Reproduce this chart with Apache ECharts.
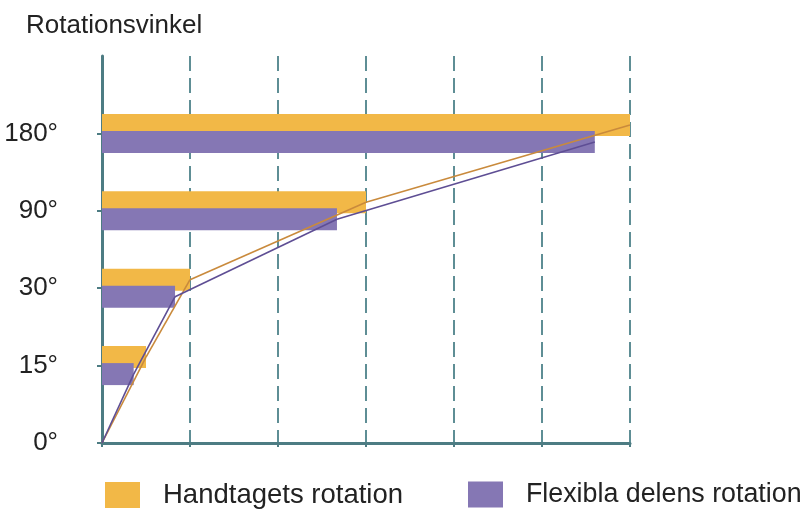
<!DOCTYPE html>
<html>
<head>
<meta charset="utf-8">
<script src="https://cdn.jsdelivr.net/npm/echarts@6/dist/echarts.min.js"></script>
<style>
  html, body { margin: 0; padding: 0; background: #fff; }
  #chart { width: 807px; height: 509px; }
</style>
</head>
<body>
<div id="chart"></div>
<script>
  /******************/
  //region    //data

  let angleLabels = ['0°', '15°', '30°', '90°', '180°', ''];
  let seriesNames = ['Handtagets rotation', 'Flexibla delens rotation'];
  // rotation per angle step (0°, 15°, 30°, 90°, 180°)
  let handleRotation = [0, 0.5, 1.0, 3.0, 6.0];
  let flexRotation = [0, 0.36, 0.83, 2.67, 5.6];

  //endregion

  /******************/
  //region    //style

  let barColors = ['#F2B847', '#8577B4'];
  let lineColors = ['#C98A3C', '#5E4E94'];
  let axisColor = '#4D7C83';
  let gridColor = '#5E8E95';
  let barWidth = 22;
  let barGap = -5;
  let legendLeft = [105, 468];
  let legendFontSize = [27.5, 26.8];
  let font = 'Liberation Sans, Arial, sans-serif';

  //endregion

  /******************/
  //region    //function

  // bars skip the 0° row
  function barData(arr) {
    return arr.map((v, i) => i === 0 ? '-' : v);
  }

  // vertical pixel offset of each bar centre from its tick
  function barOffset(idx) {
    let half = (barWidth * 2 + barGap) / 2;
    return idx === 0 ? -half + barWidth / 2 : half - barWidth / 2;
  }

  function lineSeries(arr, idx) {
    return {
      type: 'custom',
      name: seriesNames[idx] + ' linje',
      z: 5,
      data: arr.map((v, i) => [v, i]),
      renderItem(params, api) {
        let i = params.dataIndex;
        if (i === 0) return;
        let prev = api.coord([arr[i - 1], i - 1]);
        let cur = api.coord([api.value(0), api.value(1)]);
        let dy = barOffset(idx);
        return {
          type: 'line',
          shape: {
            x1: prev[0], y1: prev[1] + (i - 1 === 0 ? 0 : dy),
            x2: cur[0], y2: cur[1] + dy
          },
          style: { stroke: lineColors[idx], lineWidth: 1.6 }
        };
      }
    };
  }

  function legendItem(idx) {
    return {
      data: [seriesNames[idx]],
      left: legendLeft[idx], top: 481,
      padding: 0,
      icon: 'rect',
      itemWidth: 35, itemHeight: 26,
      textStyle: { fontFamily: font, fontSize: legendFontSize[idx], color: '#222', padding: [0, 0, 0, 18] }
    };
  }

  let chart = echarts.init(document.getElementById('chart'));

  let option = {
    animation: false,
    title: {
      text: 'Rotationsvinkel',
      left: 21, top: 8,
      textStyle: { fontFamily: font, fontWeight: 'normal', fontSize: 26, color: '#222' }
    },
    legend: [legendItem(0), legendItem(1)],
    grid: { left: 102, right: 177, top: 56, bottom: 66 },
    xAxis: {
      type: 'value',
      min: 0, max: 6, interval: 1,
      axisLine: { show: true, lineStyle: { color: axisColor, width: 3 } },
      axisTick: { show: true, inside: false, length: 4, lineStyle: { color: axisColor, width: 2 } },
      axisLabel: { show: false },
      splitLine: { show: true, lineStyle: { color: gridColor, width: 2, type: [15, 7] } }
    },
    yAxis: {
      type: 'category',
      boundaryGap: false,
      data: angleLabels,
      axisLine: { show: true, lineStyle: { color: axisColor, width: 3 } },
      axisTick: {
        show: true, length: 5,
        interval: (i, v) => v !== '',
        lineStyle: { color: axisColor, width: 2 }
      },
      axisLabel: {
        margin: 44, fontFamily: font, fontSize: 26, color: '#222',
        padding: [0, 0, 10, 0]
      },
      splitLine: { show: false }
    },
    series: [
      {
        type: 'bar', name: seriesNames[0],
        data: barData(handleRotation),
        barWidth: barWidth, barGap: (barGap / barWidth * 100) + '%',
        itemStyle: { color: barColors[0] }
      },
      {
        type: 'bar', name: seriesNames[1],
        data: barData(flexRotation),
        barWidth: barWidth,
        itemStyle: { color: barColors[1] }
      },
      lineSeries(handleRotation, 0),
      lineSeries(flexRotation, 1)
    ]
  };

  chart.setOption(option);

  //endregion
</script>
</body>
</html>
